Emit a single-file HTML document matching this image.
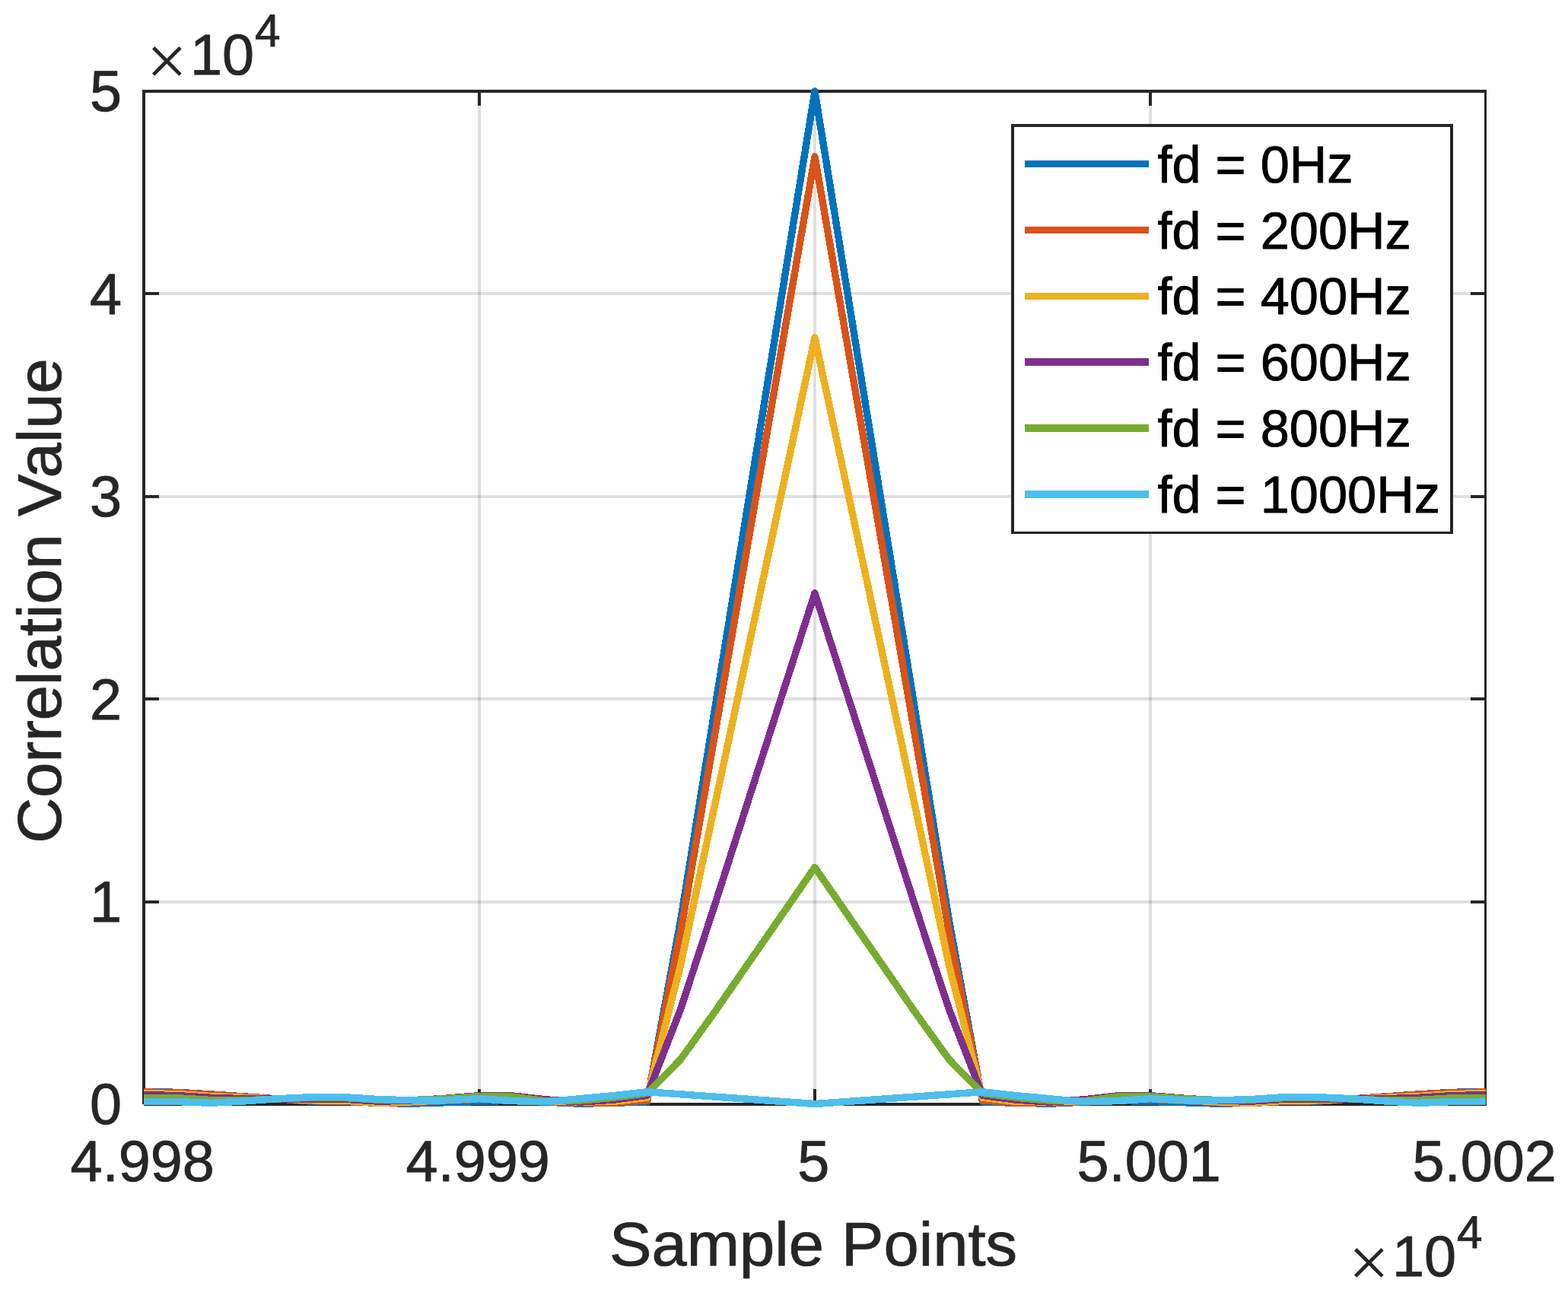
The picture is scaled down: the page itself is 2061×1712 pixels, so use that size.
<!DOCTYPE html>
<html lang="en"><head><meta charset="utf-8">
<title>Correlation Value vs Sample Points</title>
<style>
html,body{margin:0;padding:0;background:#fff;}
body{width:2061px;height:1712px;overflow:hidden;}
svg{display:block;}
text{font-family:"Liberation Sans","DejaVu Sans",sans-serif;font-kerning:none;font-variant-ligatures:none;text-rendering:geometricPrecision;}
.t,.l,.s,.x{fill:#262626;stroke:#262626;stroke-width:0.9px;stroke-linejoin:round;}
.t{font-size:75.6px;}
.l{font-size:83.15px;}
.s{font-size:60.3px;}
.x{font-size:95px;font-family:"Liberation Serif","DejaVu Serif",serif;stroke-width:0;}
.g{font-size:68.55px;fill:#000;stroke:#000;stroke-width:0.9px;stroke-linejoin:round;}
</style></head><body>
<svg width="2061" height="1712" viewBox="0 0 2061 1712" role="img" aria-label="Correlation Value versus Sample Points for six Doppler offsets">
<rect x="0" y="0" width="2061" height="1712" fill="#fff"/>
<defs><clipPath id="ax"><rect x="189" y="100" width="1764" height="1370"/></clipPath></defs>
<g stroke="#262626" stroke-opacity="0.15" stroke-width="4" fill="none" shape-rendering="crispEdges">
<line x1="630" y1="120" x2="630" y2="1452"/>
<line x1="1071" y1="120" x2="1071" y2="1452"/>
<line x1="1512" y1="120" x2="1512" y2="1452"/>
<line x1="189" y1="1185.6" x2="1953" y2="1185.6"/>
<line x1="189" y1="919.2" x2="1953" y2="919.2"/>
<line x1="189" y1="652.8" x2="1953" y2="652.8"/>
<line x1="189" y1="386.4" x2="1953" y2="386.4"/>
</g>
<g stroke="#262626" stroke-width="4" fill="none" shape-rendering="crispEdges">
<rect x="187" y="118" width="4" height="1334" fill="#262626" stroke="none"/>
<rect x="187" y="118" width="1767" height="4" fill="#262626" stroke="none"/>
<rect x="189" y="1450" width="1765" height="4" fill="#262626" stroke="none"/>
<rect x="1951" y="118" width="3" height="1336" fill="#262626" stroke="none"/>
<line x1="630" y1="1452" x2="630" y2="1432"/>
<line x1="630" y1="120" x2="630" y2="139"/>
<line x1="1071" y1="1452" x2="1071" y2="1432"/>
<line x1="1071" y1="120" x2="1071" y2="139"/>
<line x1="1512" y1="1452" x2="1512" y2="1432"/>
<line x1="1512" y1="120" x2="1512" y2="139"/>
<line x1="189" y1="1185.6" x2="209" y2="1185.6"/>
<line x1="1953" y1="1185.6" x2="1933" y2="1185.6"/>
<line x1="189" y1="919.2" x2="209" y2="919.2"/>
<line x1="1953" y1="919.2" x2="1933" y2="919.2"/>
<line x1="189" y1="652.8" x2="209" y2="652.8"/>
<line x1="1953" y1="652.8" x2="1933" y2="652.8"/>
<line x1="189" y1="386.4" x2="209" y2="386.4"/>
<line x1="1953" y1="386.4" x2="1933" y2="386.4"/>
</g>
<g clip-path="url(#ax)" fill="none" stroke-width="9.4" stroke-linejoin="round" stroke-linecap="butt" shape-rendering="crispEdges">
<polyline stroke="#0072BD" points="179,1435.82 189,1435.9 233.1,1436.25 277.2,1438.9 321.3,1441.9 365.4,1444.9 409.5,1448.2 453.6,1448.5 497.7,1450.4 541.8,1451.15 585.9,1449.7 630,1448.5 674.1,1447.3 718.2,1449.2 762.3,1451.15 806.4,1450.3 850.5,1448.8 894.6,1210.11 938.7,937.58 982.8,665.05 1026.9,392.53 1071,120 1115.1,392.53 1159.2,665.05 1203.3,937.58 1247.4,1210.11 1291.5,1448.8 1335.6,1450.3 1379.7,1451.15 1423.8,1449.2 1467.9,1447.3 1512,1448.5 1556.1,1449.7 1600.2,1451.15 1644.3,1450.4 1688.4,1448.5 1732.5,1448.2 1776.6,1444.9 1820.7,1441.9 1864.8,1438.9 1908.9,1436.25 1953,1435.9 1963,1435.82"/>
<polyline stroke="#D95319" points="179,1435.82 189,1436 233.1,1436.8 277.2,1439.2 321.3,1442.2 365.4,1445.1 409.5,1447.7 453.6,1448.2 497.7,1450.3 541.8,1449.7 585.9,1447.4 630,1445.3 674.1,1446.5 718.2,1448.6 762.3,1450.2 806.4,1450.3 850.5,1446.8 894.6,1225.71 938.7,970.77 982.8,715.83 1026.9,460.88 1071,205.94 1115.1,460.88 1159.2,715.83 1203.3,970.77 1247.4,1225.71 1291.5,1446.8 1335.6,1450.3 1379.7,1450.2 1423.8,1448.6 1467.9,1446.5 1512,1445.3 1556.1,1447.4 1600.2,1449.7 1644.3,1450.3 1688.4,1448.2 1732.5,1447.7 1776.6,1445.1 1820.7,1442.2 1864.8,1439.2 1908.9,1436.8 1953,1436 1963,1435.82"/>
<polyline stroke="#EDB120" points="179,1437.58 189,1437.75 233.1,1438.5 277.2,1441.5 321.3,1443.3 365.4,1445 409.5,1446.8 453.6,1447.3 497.7,1450.3 541.8,1448.8 585.9,1446.5 630,1443 674.1,1445 718.2,1447.8 762.3,1449 806.4,1448.5 850.5,1443.3 894.6,1268.93 938.7,1062.68 982.8,856.42 1026.9,650.17 1071,443.92 1115.1,650.17 1159.2,856.42 1203.3,1062.68 1247.4,1268.93 1291.5,1443.3 1335.6,1448.5 1379.7,1449 1423.8,1447.8 1467.9,1445 1512,1443 1556.1,1446.5 1600.2,1448.8 1644.3,1450.3 1688.4,1447.3 1732.5,1446.8 1776.6,1445 1820.7,1443.3 1864.8,1441.5 1908.9,1438.5 1953,1437.75 1963,1437.58"/>
<polyline stroke="#7E2F8E" points="179,1439.37 189,1439.6 233.1,1440.6 277.2,1443.3 321.3,1444.7 365.4,1445 409.5,1445.35 453.6,1445.3 497.7,1448.2 541.8,1447.1 585.9,1444.2 630,1440.65 674.1,1441 718.2,1445.9 762.3,1449.1 806.4,1446.2 850.5,1440.4 894.6,1327 938.7,1192.42 982.8,1054.91 1026.9,917.39 1071,779.87 1115.1,917.39 1159.2,1054.91 1203.3,1192.42 1247.4,1327 1291.5,1440.4 1335.6,1446.2 1379.7,1449.1 1423.8,1445.9 1467.9,1441 1512,1440.65 1556.1,1444.2 1600.2,1447.1 1644.3,1448.2 1688.4,1445.3 1732.5,1445.35 1776.6,1445 1820.7,1444.7 1864.8,1443.3 1908.9,1440.6 1953,1439.6 1963,1439.37"/>
<polyline stroke="#77AC30" points="179,1443.5 189,1443.55 233.1,1443.75 277.2,1446.5 321.3,1446.8 365.4,1445 409.5,1443.2 453.6,1443.5 497.7,1446.2 541.8,1446.5 585.9,1444.75 630,1441.5 674.1,1442.1 718.2,1447.9 762.3,1447.1 806.4,1443.3 850.5,1437.5 894.6,1393 938.7,1331.69 982.8,1267.95 1026.9,1204.21 1071,1140.47 1115.1,1204.21 1159.2,1267.95 1203.3,1331.69 1247.4,1393 1291.5,1437.5 1335.6,1443.3 1379.7,1447.1 1423.8,1447.9 1467.9,1442.1 1512,1441.5 1556.1,1444.75 1600.2,1446.5 1644.3,1446.2 1688.4,1443.5 1732.5,1443.2 1776.6,1445 1820.7,1446.8 1864.8,1446.5 1908.9,1443.75 1953,1443.55 1963,1443.5"/>
<polyline stroke="#4DBEEE" points="179,1448.54 189,1448.55 233.1,1448.6 277.2,1450.3 321.3,1447.9 365.4,1444.7 409.5,1442.7 453.6,1442.7 497.7,1445.6 541.8,1446.8 585.9,1446.8 630,1444.7 674.1,1447.65 718.2,1448.8 762.3,1444.7 806.4,1440.65 850.5,1435.7 894.6,1438.86 938.7,1442.02 982.8,1445.18 1026.9,1448.34 1071,1451.5 1115.1,1448.34 1159.2,1445.18 1203.3,1442.02 1247.4,1438.86 1291.5,1435.7 1335.6,1440.65 1379.7,1444.7 1423.8,1448.8 1467.9,1447.65 1512,1444.7 1556.1,1446.8 1600.2,1446.8 1644.3,1445.6 1688.4,1442.7 1732.5,1442.7 1776.6,1444.7 1820.7,1447.9 1864.8,1450.3 1908.9,1448.6 1953,1448.55 1963,1448.54"/>
</g>
<rect x="1329" y="163" width="581" height="539" fill="#262626"/>
<rect x="1333" y="167" width="573" height="532" fill="#fff"/>
<line x1="1346.8" y1="215.4" x2="1510" y2="215.4" stroke="#0072BD" stroke-width="9.4" shape-rendering="crispEdges"/>
<text class="g" transform="translate(1521.4,239.6)">fd = 0Hz</text>
<line x1="1346.8" y1="302.3" x2="1510" y2="302.3" stroke="#D95319" stroke-width="9.4" shape-rendering="crispEdges"/>
<text class="g" transform="translate(1521.4,326.5)">fd = 200Hz</text>
<line x1="1346.8" y1="389.2" x2="1510" y2="389.2" stroke="#EDB120" stroke-width="9.4" shape-rendering="crispEdges"/>
<text class="g" transform="translate(1521.4,413.4)">fd = 400Hz</text>
<line x1="1346.8" y1="476.1" x2="1510" y2="476.1" stroke="#7E2F8E" stroke-width="9.4" shape-rendering="crispEdges"/>
<text class="g" transform="translate(1521.4,500.3)">fd = 600Hz</text>
<line x1="1346.8" y1="563" x2="1510" y2="563" stroke="#77AC30" stroke-width="9.4" shape-rendering="crispEdges"/>
<text class="g" transform="translate(1521.4,587.2)">fd = 800Hz</text>
<line x1="1346.8" y1="649.9" x2="1510" y2="649.9" stroke="#4DBEEE" stroke-width="9.4" shape-rendering="crispEdges"/>
<text class="g" transform="translate(1521.4,674.1)">fd = 1000Hz</text>
<text class="t" transform="translate(160,1478.4) scale(1,1.005)" text-anchor="end">0</text>
<text class="t" transform="translate(160,1212) scale(1,1.005)" text-anchor="end">1</text>
<text class="t" transform="translate(160,945.6) scale(1,1.005)" text-anchor="end">2</text>
<text class="t" transform="translate(160,679.2) scale(1,1.005)" text-anchor="end">3</text>
<text class="t" transform="translate(160,412.8) scale(1,1.005)" text-anchor="end">4</text>
<text class="t" transform="translate(160,146.4) scale(1,1.005)" text-anchor="end">5</text>
<text class="t" transform="translate(187.2,1553.3) scale(1,1.005)" text-anchor="middle">4.998</text>
<text class="t" transform="translate(628.2,1553.3) scale(1,1.005)" text-anchor="middle">4.999</text>
<text class="t" transform="translate(1069.2,1553.3) scale(1,1.005)" text-anchor="middle">5</text>
<text class="t" transform="translate(1510.2,1553.3) scale(1,1.005)" text-anchor="middle">5.001</text>
<text class="t" transform="translate(1951.2,1553.3) scale(1,1.005)" text-anchor="middle">5.002</text>
<text class="t" transform="translate(0,0)"><tspan class="x" x="192.5" y="112">×</tspan><tspan x="250" y="98.3">10</tspan><tspan class="s" x="335" y="61.4">4</tspan></text>
<text class="t" transform="translate(1580,1580)"><tspan class="x" x="192.5" y="112">×</tspan><tspan x="250" y="98.3">10</tspan><tspan class="s" x="335" y="61.4">4</tspan></text>
<text class="l" transform="translate(1069.1,1663.9) scale(1,0.975)" text-anchor="middle">Sample Points</text>
<text class="l" transform="translate(79.6,790) rotate(-90) scale(1,0.975)" text-anchor="middle">Correlation V<tspan dx="-4.8">alue</tspan></text>
</svg>
</body></html>
